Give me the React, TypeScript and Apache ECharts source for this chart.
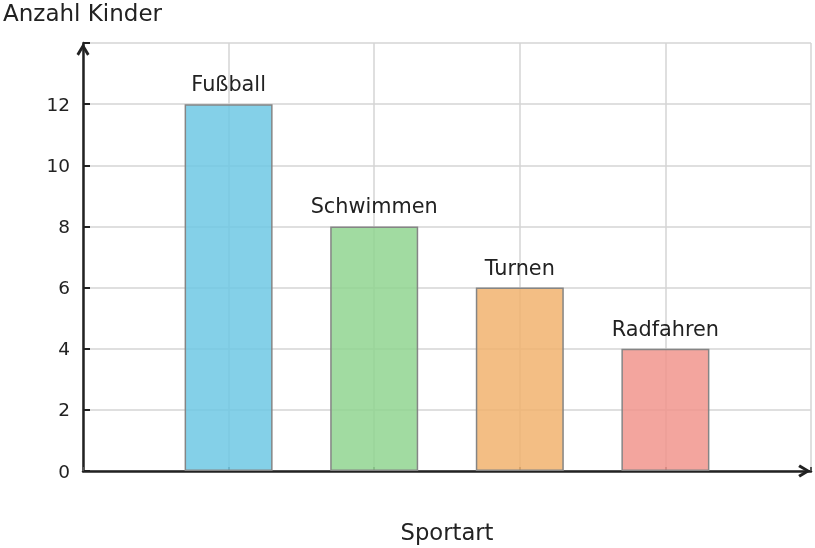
import { useEffect, useRef } from 'react';
import * as echarts from 'echarts';

// Sportarten und Anzahl Kinder
const sports = ['Fußball', 'Schwimmen', 'Turnen', 'Radfahren'];
const positions = [1, 2, 3, 4];
const counts = [12, 8, 6, 4];
const barColors = [
  'rgba(111, 200, 228, 0.85)',
  'rgba(145, 213, 145, 0.85)',
  'rgba(241, 179, 111, 0.85)',
  'rgba(241, 149, 141, 0.85)',
];

const FONT = '"DejaVu Sans", sans-serif';
// open chevron used as the arrow head on both axes
const ARROW = 'path://M6,0 L12,10 L9.8,11.6 L6,5 L2.2,11.6 L0,10 Z';

export default function App() {
  const chartRef = useRef<HTMLDivElement>(null);

  useEffect(() => {
    if (!chartRef.current) return;
    const chart = echarts.init(chartRef.current, null, { renderer: 'svg' });

    chart.setOption({
      animation: false,
      textStyle: { fontFamily: FONT },
      title: {
        text: 'Anzahl Kinder',
        left: 3,
        top: 1,
        padding: 0,
        textStyle: { fontFamily: FONT, fontSize: 23, fontWeight: 'normal', color: '#222' },
      },
      grid: { left: 83, right: 4, top: 43, bottom: 77, containLabel: false },
      xAxis: {
        type: 'value',
        min: 0,
        max: 5,
        interval: 1,
        name: 'Sportart',
        nameLocation: 'middle',
        nameGap: 49,
        nameTextStyle: { fontFamily: FONT, fontSize: 22.7, color: '#222' },
        axisLine: {
          lineStyle: { color: '#222', width: 2.5 },
          symbol: ['none', ARROW],
          symbolSize: [13, 13],
          symbolOffset: [0, -6.5],
        },
        axisTick: { show: true, inside: true, length: 4, lineStyle: { color: '#555', width: 2 } },
        axisLabel: { show: false },
        splitLine: { show: true, lineStyle: { color: '#d4d4d4', width: 1.5 } },
      },
      yAxis: {
        type: 'value',
        min: 0,
        max: 14,
        interval: 2,
        axisLine: {
          show: true,
          lineStyle: { color: '#222', width: 2.5 },
          symbol: ['none', ARROW],
          symbolSize: [13, 13],
          symbolOffset: [0, -6.5],
        },
        axisTick: { show: true, inside: true, length: 7, lineStyle: { color: '#222', width: 2 } },
        axisLabel: {
          color: '#222',
          fontSize: 18.5,
          fontFamily: FONT,
          margin: 13,
          formatter: (v: number) => (v === 14 ? '' : String(v)),
        },
        splitLine: { show: true, lineStyle: { color: '#d4d4d4', width: 1.5 } },
      },
      series: [
        {
          type: 'bar',
          barWidth: 88,
          data: counts.map((c, i) => ({
            value: [positions[i], c],
            itemStyle: { color: barColors[i] },
          })),
          itemStyle: { borderColor: '#858585', borderWidth: 1.5 },
          label: {
            show: true,
            position: 'top',
            distance: 9.5,
            fontFamily: FONT,
            fontSize: 20.8,
            color: '#222',
            formatter: (p: { dataIndex: number }) => sports[p.dataIndex],
          },
        },
      ],
    });

    return () => {
      chart.dispose();
    };
  }, []);

  return (
    <div
      ref={chartRef}
      style={{ position: 'fixed', left: 0, top: 0, width: '100vw', height: '100vh' }}
    />
  );
}
